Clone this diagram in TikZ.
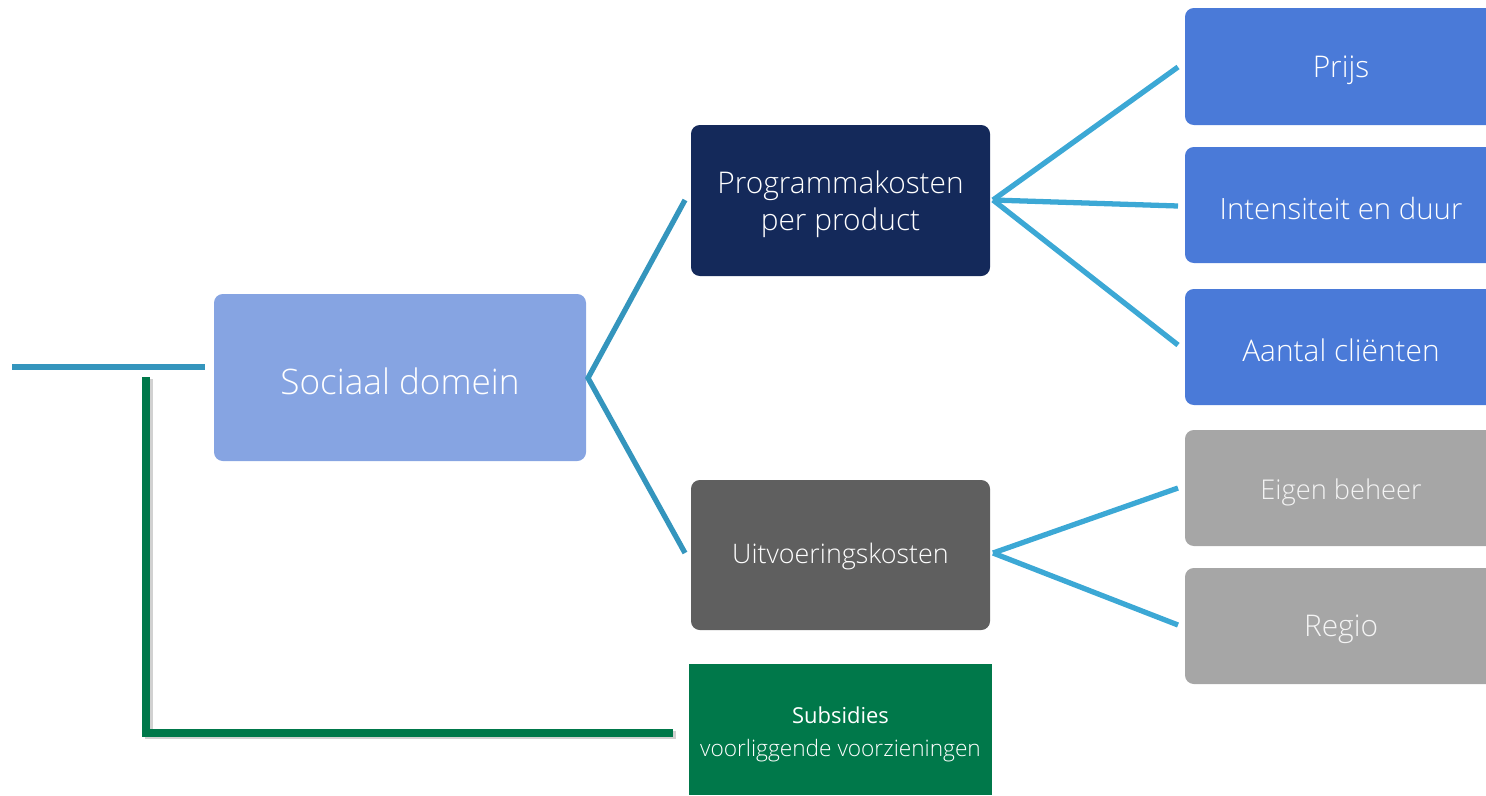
\documentclass[tikz,border=0pt]{standalone}
\usepackage{fontspec}
\setmainfont{Open Sans Light}
\newfontfamily\regf{Open Sans}
\definecolor{navy}{HTML}{14295A}
\definecolor{dgray}{HTML}{5F5F5F}
\definecolor{lgray}{HTML}{A6A6A6}
\definecolor{sblue}{HTML}{86A4E2}
\definecolor{mblue}{HTML}{4A7AD8}
\definecolor{lineA}{HTML}{3495BD}
\definecolor{lineB}{HTML}{3CA8D5}
\definecolor{green}{HTML}{00784A}
\begin{document}
\begin{tikzpicture}[x=0.02cm,y=-0.02cm,
  box/.style={rounded corners=5pt, inner sep=0pt, text=white, align=center},
  txt/.style={inner sep=0pt, text=white, align=center, font=\fontsize{17}{20}\selectfont},
  conA/.style={draw=lineA, line width=3pt},
  conB/.style={draw=lineB, line width=3pt},
  gline/.style={draw=green, line width=4.5pt}]
\useasboundingbox (0,0) rectangle (1486,795);
\clip (0,0) rectangle (1486,795);
% right boxes
\fill[mblue, rounded corners=5pt] (1185,8) rectangle (1497,125);
\node[txt] (prijs) at (1341,70) {Prijs};
\fill[mblue, rounded corners=5pt] (1185,147) rectangle (1497,263);
\node[txt, font=\fontsize{16.7}{20}\selectfont] (int) at (1341,208) {Intensiteit en duur};
\fill[mblue, rounded corners=5pt] (1185,289) rectangle (1497,405);
\node[txt] (aant) at (1341,350) {Aantal cliënten};
\fill[lgray, rounded corners=5pt] (1185,430) rectangle (1497,546);
\node[txt, text=white!88!lgray, font=\fontsize{15.5}{20}\selectfont] (eig) at (1341,492) {Eigen beheer};
\fill[lgray, rounded corners=5pt] (1185,568) rectangle (1497,684);
\node[txt, text=white!88!lgray] (reg) at (1341,629) {Regio};
% middle boxes
\node[box, fill=navy, minimum width=299*0.02cm, minimum height=151*0.02cm] (prog) at (840.5,200.5) {};
\node[txt, font=\fontsize{17}{21.3}\selectfont] (progt) at (840.5,204) {Programmakosten\\per product};
\node[box, fill=dgray, minimum width=299*0.02cm, minimum height=150*0.02cm] (uitv) at (840.5,555) {};
\node[txt, font=\fontsize{15.3}{20}\selectfont] (uitvt) at (840.5,557) {Uitvoeringskosten};
\node[box, fill=sblue, minimum width=372*0.02cm, minimum height=167*0.02cm] (soc) at (400,377.5) {};
\node[txt, font=\fontsize{20}{24}\selectfont] (soct) at (400,381) {Sociaal domein};
\node[fill=green, inner sep=0pt, minimum width=303*0.02cm, minimum height=131*0.02cm] (sub) at (840.5,729.5) {};
\node[txt, font=\regf\fontsize{12.5}{15}\selectfont] (subt) at (840.5,715) {Subsidies};
\node[txt, font=\fontsize{12.9}{15}\selectfont] (subv) at (840.5,751) {voorliggende voorzieningen};
% connector points
\coordinate (socR) at (588,378);
\coordinate (progL) at (685,200);
\coordinate (uitvL) at (685,553);
\coordinate (progR) at (993,200);
\coordinate (uitvR) at (993,553);
\coordinate (prijsL) at (1178,67);
\coordinate (intL) at (1178,206);
\coordinate (aantL) at (1178,345);
\coordinate (eigL) at (1178,488);
\coordinate (regL) at (1178,625);
\coordinate (lineL) at (12,367);
\coordinate (lineR) at (205,367);
\coordinate (gTop) at (146,377);
\coordinate (gCorner) at (146,733);
\coordinate (gEnd) at (673,733);
% connectors
\draw[conA] (lineL) -- (lineR);
\draw[conA] (progL) -- (socR) -- (uitvL);
\draw[conB] (progR) -- (prijsL);
\draw[conB] (progR) -- (intL);
\draw[conB] (progR) -- (aantL);
\draw[conB] (uitvR) -- (eigL);
\draw[conB] (uitvR) -- (regL);
\draw[draw=black, opacity=0.18, line width=4.5pt] ([shift={(3,2)}]gTop) -- ([shift={(3,2)}]gCorner) -- ([shift={(3,2)}]gEnd);
\draw[gline] (gTop) -- (gCorner) -- (gEnd);
\end{tikzpicture}
\end{document}
